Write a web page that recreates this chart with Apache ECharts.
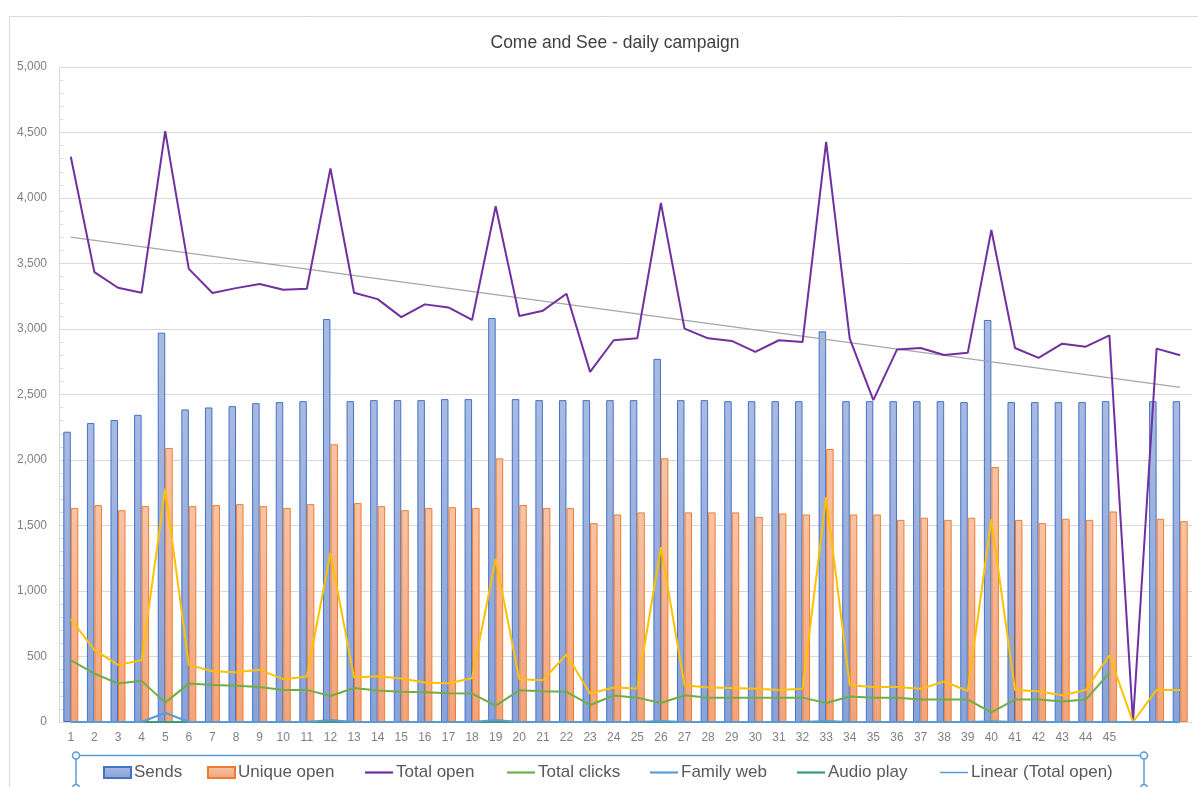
<!DOCTYPE html>
<html>
<head>
<meta charset="utf-8">
<title>Come and See - daily campaign</title>
<script src="https://cdn.jsdelivr.net/npm/echarts@6/dist/echarts.min.js"></script>
<style>
  html, body { margin: 0; padding: 0; background: #fff; }
  #main { width: 1198px; height: 787px; }
</style>
</head>
<body>
<div id="main"></div>
<script>
// x categories (last three days have no label)
var days = ['1','2','3','4','5','6','7','8','9','10','11','12','13','14','15','16','17','18','19','20',
  '21','22','23','24','25','26','27','28','29','30','31','32','33','34','35','36','37','38','39','40',
  '41','42','43','44','45','','',''];

var sends = [2216,2282,2305,2345,2972,2386,2401,2411,2434,2442,2449,3076,2449,2457,2457,2457,2465,2465,3084,2465,
  2457,2457,2457,2457,2457,2772,2457,2457,2449,2449,2449,2449,2982,2449,2449,2449,2449,2449,2442,3069,
  2442,2442,2442,2442,2449,null,2449,2449];

var uniqueOpen = [1633,1656,1617,1648,2092,1648,1656,1663,1648,1633,1663,2120,1671,1648,1617,1633,1640,1633,2013,1656,
  1633,1633,1518,1584,1600,2013,1600,1600,1600,1566,1592,1584,2084,1584,1584,1543,1559,1543,1559,1946,
  1543,1518,1551,1543,1607,null,1551,1533];

var totalOpen = [4315,3434,3315,3277,4510,3459,3275,3312,3343,3299,3307,4226,3277,3228,3091,3188,3165,3069,3937,3099,
  3140,3269,2673,2914,2929,3962,3003,2929,2909,2825,2914,2900,4429,2926,2457,2843,2855,2802,2818,3756,
  2855,2779,2888,2865,2952,0,2850,2799];

// yellow line (its legend entry is not visible in the picture)
var uniqueClicks = [786,551,436,472,1781,436,388,380,398,327,347,1291,339,349,332,301,296,334,1245,327,
  319,515,217,263,255,1334,281,263,260,253,245,253,1717,281,268,268,253,309,237,1546,
  245,235,204,245,510,0,245,245];

var totalClicks = [472,370,293,314,148,293,283,276,268,245,245,199,260,240,230,227,219,217,125,242,
  235,230,130,202,186,145,204,186,186,186,186,186,145,194,186,186,171,171,171,74,
  171,171,156,171,375];

var familyWeb = [0,0,0,0,71,0,0,0,0,0,0,15,0,0,0,0,0,0,15,0,
  0,0,0,0,0,8,0,0,0,0,0,0,8,0,0,0,0,0,0,5,
  0,0,0,0,0,0,0,0];

var audioPlay = [0,0,0,0,0,0,0,0,0,0,0,0,0,0,0,0,0,0,0,0,
  0,0,0,0,0,0,0,0,0,0,0,0,0,0,0,0,0,0,0,0,
  0,0,0,0,0];

// trend line of Total open, read at first and last day
var trendEnds = [3702, 2554];

var yTicks = { min: 0, max: 5000, interval: 500 };

(function () {
  var chart = echarts.init(document.getElementById('main'));
  var font = 'Liberation Sans, Arial, sans-serif';

  var trend = days.map(function (d, i) {
    if (i === 0) return trendEnds[0];
    if (i === days.length - 1) return trendEnds[1];
    return null;
  });

  // one legend per item so each can sit where Excel put it
  var legendItems = [
    { name: 'Sends', left: 103, bar: true },
    { name: 'Unique open', left: 207, bar: true },
    { name: 'Total open', left: 365 },
    { name: 'Total clicks', left: 507 },
    { name: 'Family web', left: 650 },
    { name: 'Audio play', left: 797 },
    { name: 'Linear (Total open)', left: 940, color: '#5B9BD5', thin: true }
  ];
  var legends = legendItems.map(function (it) {
    var d = { name: it.name, icon: 'rect' };
    if (it.color) d.itemStyle = { color: it.color };
    return {
      data: [d],
      left: it.left,
      top: 764,
      itemWidth: it.bar ? 27 : 28,
      itemHeight: it.bar ? 11 : it.thin ? 1.5 : 2.2,
      padding: 0,
      selectedMode: false,
      textStyle: {
        color: '#595959', fontSize: 17, fontFamily: font,
        padding: [0, 0, 0, -2], lineHeight: 17
      }
    };
  });

  var barGrad = function (top, bottom) {
    return new echarts.graphic.LinearGradient(0, 0, 0, 1, [
      { offset: 0, color: top }, { offset: 1, color: bottom }
    ]);
  };

  var option = {
    animation: false,
    backgroundColor: '#fff',
    textStyle: { fontFamily: font },
    title: {
      text: 'Come and See - daily campaign',
      left: 610,
      top: 29,
      textAlign: 'center',
      textStyle: { color: '#404040', fontSize: 17.5, fontWeight: 'normal', fontFamily: font }
    },
    legend: legends,
    grid: { left: 59, right: 6, top: 67, bottom: 65 },
    xAxis: {
      type: 'category',
      data: days,
      axisLine: { lineStyle: { color: '#D9D9D9' } },
      axisTick: { show: false },
      axisLabel: { color: '#808080', fontSize: 12, margin: 10, interval: 0 }
    },
    yAxis: {
      type: 'value',
      min: yTicks.min,
      max: yTicks.max,
      interval: yTicks.interval,
      axisLine: { show: true, lineStyle: { color: '#D9D9D9' } },
      axisTick: { show: false, inside: true },
      minorTick: { show: true, splitNumber: 5, length: 4, lineStyle: { color: '#D9D9D9' } },
      axisLabel: {
        color: '#808080', fontSize: 12, margin: 12,
        formatter: function (v) { return v.toLocaleString('en-US'); }
      },
      splitLine: { lineStyle: { color: '#D9D9D9' } }
    },
    series: [
      {
        name: 'Sends', type: 'bar', data: sends, barWidth: 7.5, barGap: '0%',
        itemStyle: { color: barGrad('#A9BAE2', '#8AA2D8'), borderColor: '#4472C4', borderWidth: 1 }
      },
      {
        name: 'Unique open', type: 'bar', data: uniqueOpen, barWidth: 7.5,
        itemStyle: { color: barGrad('#F8C3A5', '#F2A47A'), borderColor: '#ED7D31', borderWidth: 1 }
      },
      {
        name: 'Total open', type: 'line', data: totalOpen, symbol: 'none',
        lineStyle: { color: '#7030A0', width: 2 }, itemStyle: { color: '#7030A0' }, z: 4
      },
      {
        name: 'Unique clicks', type: 'line', data: uniqueClicks, symbol: 'none',
        lineStyle: { color: '#FFC000', width: 2 }, itemStyle: { color: '#FFC000' }, z: 4
      },
      {
        name: 'Total clicks', type: 'line', data: totalClicks, symbol: 'none',
        lineStyle: { color: '#70AD47', width: 2 }, itemStyle: { color: '#70AD47' }, z: 4
      },
      {
        name: 'Family web', type: 'line', data: familyWeb, symbol: 'none',
        lineStyle: { color: '#5B9BD5', width: 2 }, itemStyle: { color: '#5B9BD5' }, z: 4
      },
      {
        name: 'Audio play', type: 'line', data: audioPlay, symbol: 'none',
        lineStyle: { color: '#3A9A7E', width: 2 }, itemStyle: { color: '#3A9A7E' }, z: 3
      },
      {
        name: 'Linear (Total open)', type: 'line', data: trend, symbol: 'none', connectNulls: true,
        lineStyle: { color: '#A6A6A6', width: 1.2 }, itemStyle: { color: '#A6A6A6' }, z: 3
      }
    ],
    graphic: [
      // chart area border
      { type: 'rect', shape: { x: 9.5, y: 16.5, width: 1200, height: 800 }, silent: true,
        style: { fill: null, stroke: '#D9D9D9', lineWidth: 1 }, z: -10 },
      // selected legend frame
      { type: 'polyline', shape: { points: [[76, 790], [76, 755.5], [1144, 755.5], [1144, 790]] }, silent: true,
        style: { fill: null, stroke: '#5B9BD5', lineWidth: 1.5 } },
      { type: 'circle', shape: { cx: 76, cy: 755.5, r: 3.5 }, silent: true,
        style: { fill: '#fff', stroke: '#5B9BD5', lineWidth: 1.5 } },
      { type: 'circle', shape: { cx: 1144, cy: 755.5, r: 3.5 }, silent: true,
        style: { fill: '#fff', stroke: '#5B9BD5', lineWidth: 1.5 } },
      { type: 'circle', shape: { cx: 76, cy: 788, r: 3.5 }, silent: true,
        style: { fill: '#fff', stroke: '#5B9BD5', lineWidth: 1.5 } },
      { type: 'circle', shape: { cx: 1144, cy: 788, r: 3.5 }, silent: true,
        style: { fill: '#fff', stroke: '#5B9BD5', lineWidth: 1.5 } }
    ]
  };

  chart.setOption(option);
  window.addEventListener('resize', function () {
    chart.resize();
  });
})();
</script>
</body>
</html>
